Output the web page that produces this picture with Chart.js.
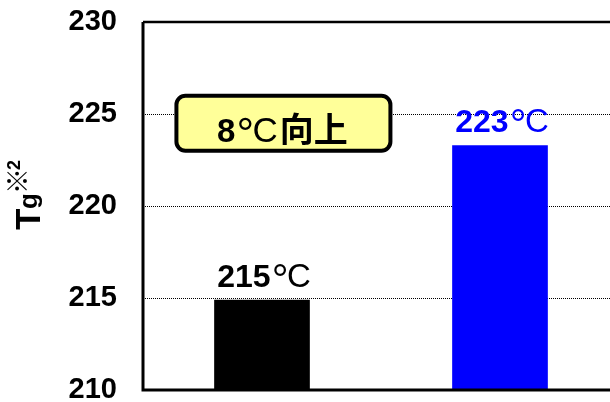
<!DOCTYPE html>
<html>
<head>
<meta charset="utf-8">
<script src="https://cdn.jsdelivr.net/npm/chart.js@4/dist/chart.umd.min.js"></script>
<style>
  html, body { margin: 0; padding: 0; overflow: hidden; background: #fff; }
  canvas { display: block; }
</style>
</head>
<body>
<canvas id="c" width="620" height="402"></canvas>
<script>
// Glass transition temperature of two samples
const categories = ['A', 'B'];
const values = [214.9, 223.3];
const barColors = ['#000000', '#0000FF'];
const yTicks = [210, 215, 220, 225, 230];
const gainParts = ['8', '°', 'C', '向上'];
const gainAnchor = { x: 0.09, y: 224.5 }; // position of the callout, in data units

const FONT = '"Liberation Sans", Arial, sans-serif';
const CJK = '"Noto Sans CJK JP", sans-serif';

// Draw a run of {t, f, gap, dy} pieces centred on x
function drawRun(ctx, pieces, cx, baseline) {
  let total = 0;
  const widths = pieces.map(p => {
    ctx.font = p.f;
    const w = ctx.measureText(p.t).width + (p.gap || 0);
    total += w;
    return w;
  });
  let x = cx - total / 2;
  ctx.textAlign = 'left';
  ctx.textBaseline = 'alphabetic';
  pieces.forEach((p, i) => {
    ctx.font = p.f;
    ctx.fillText(p.t, x, baseline + (p.dy || 0));
    x += widths[i];
  });
}

// Frame: left, top and bottom edges of the plot area
const framePlugin = {
  id: 'frame',
  afterDatasetsDraw(chart) {
    const { ctx, chartArea: a } = chart;
    ctx.save();
    ctx.strokeStyle = '#000';
    ctx.lineWidth = 2.5;
    ctx.beginPath();
    ctx.moveTo(a.right + 2, a.top);
    ctx.lineTo(a.left, a.top);
    ctx.stroke();
    ctx.lineWidth = 3;
    ctx.beginPath();
    ctx.moveTo(a.left, a.top);
    ctx.lineTo(a.left, a.bottom);
    ctx.lineTo(a.right + 2, a.bottom);
    ctx.stroke();
    ctx.restore();
  }
};

// Value labels above each bar
const valueLabels = {
  id: 'valueLabels',
  afterDatasetsDraw(chart) {
    const { ctx } = chart;
    const meta = chart.getDatasetMeta(0);
    ctx.save();
    meta.data.forEach((el, i) => {
      ctx.fillStyle = barColors[i];
      drawRun(ctx, [
        { t: String(Math.round(values[i])), f: 'bold 32px ' + FONT, gap: 1 },
        { t: '°', f: '42px ' + FONT, gap: -1.5, dy: 7 },
        { t: 'C', f: '33px ' + FONT }
      ], el.x + 2, el.y - 13);
    });
    ctx.restore();
  }
};

// Rounded yellow callout stating the improvement
const callout = {
  id: 'callout',
  afterDraw(chart) {
    const { ctx, scales } = chart;
    const cx = scales.x.getPixelForValue(gainAnchor.x);
    const cy = scales.y.getPixelForValue(gainAnchor.y);
    const w = 214, h = 55;
    ctx.save();
    ctx.beginPath();
    ctx.roundRect(cx - w / 2, cy - h / 2, w, h, 9);
    ctx.fillStyle = '#FFFF99';
    ctx.fill();
    ctx.lineWidth = 4;
    ctx.strokeStyle = '#000';
    ctx.stroke();
    ctx.fillStyle = '#000';
    drawRun(ctx, [
      { t: gainParts[0], f: 'bold 33px ' + FONT, gap: 1 },
      { t: gainParts[1], f: '44px ' + FONT, gap: -1.5, dy: 7 },
      { t: gainParts[2], f: '35px ' + FONT, gap: 2 },
      { t: gainParts[3], f: 'bold 34px ' + CJK }
    ], cx - 1, cy + 18.5);
    ctx.restore();
  }
};

// Rotated axis title: T, g, ※2
const axisTitle = {
  id: 'axisTitle',
  afterDraw(chart) {
    const { ctx } = chart;
    ctx.save();
    ctx.translate(40, 230);
    ctx.rotate(-Math.PI / 2);
    ctx.fillStyle = '#000';
    ctx.textAlign = 'left';
    ctx.textBaseline = 'alphabetic';
    ctx.font = 'bold 35px ' + FONT;
    ctx.fillText('T', 0, 0);
    ctx.font = 'bold 26px ' + FONT;
    ctx.fillText('g', 21, -3);
    ctx.textAlign = 'center';
    ctx.font = 'bold 26px ' + CJK;
    ctx.textBaseline = 'middle';
    ctx.fillText('※', 49, -22.5);
    ctx.textBaseline = 'alphabetic';
    ctx.font = 'bold 18px ' + FONT;
    ctx.fillText('2', 65, -20);
    ctx.restore();
  }
};

new Chart(document.getElementById('c'), {
  type: 'bar',
  data: {
    labels: categories,
    datasets: [{
      data: values,
      backgroundColor: barColors,
      borderWidth: 0,
      categoryPercentage: 1,
      barPercentage: 0.402
    }]
  },
  options: {
    responsive: false,
    animation: false,
    layout: { padding: { left: 0, right: 1, top: 22, bottom: 12 } },
    plugins: { legend: { display: false }, tooltip: { enabled: false } },
    scales: {
      x: { display: false, offset: true },
      y: {
        min: yTicks[0],
        max: yTicks[yTicks.length - 1],
        afterBuildTicks(scale) { scale.ticks = yTicks.map(v => ({ value: v })); },
        afterFit(scale) {
          scale.width = 143;
          scale.paddingTop = 0;
          scale.paddingBottom = 0;
        },
        border: { display: false, dash: [1, 1] },
        grid: {
          drawTicks: false,
          lineWidth: 1,
          color: c => (c.tick && (c.tick.value === 210 || c.tick.value === 230)) ? 'rgba(0,0,0,0)' : '#000'
        },
        ticks: {
          padding: 26,
          color: '#000',
          font: { family: FONT, size: 29, weight: 'bold' }
        }
      }
    }
  },
  plugins: [framePlugin, valueLabels, callout, axisTitle]
});
</script>
</body>
</html>
